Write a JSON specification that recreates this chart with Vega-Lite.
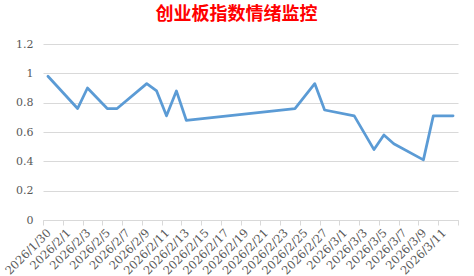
{
  "$schema": "https://vega.github.io/schema/vega-lite/v6.json",
  "autosize": "none",
  "width": 415,
  "height": 176,
  "padding": {"left": 43, "top": 44, "right": 16, "bottom": 56},
  "background": "white",
  "title": {
    "text": "创业板指数情绪监控",
    "color": "#FF0000",
    "font": "Noto Sans CJK SC",
    "fontSize": 18,
    "fontWeight": "bold",
    "anchor": "middle",
    "dx": -14,
    "offset": 14
  },
  "data": {
    "values": [
      {"date": "2026-01-30", "value": 0.98},
      {"date": "2026-02-02", "value": 0.76},
      {"date": "2026-02-03", "value": 0.90},
      {"date": "2026-02-05", "value": 0.76},
      {"date": "2026-02-06", "value": 0.76},
      {"date": "2026-02-09", "value": 0.93},
      {"date": "2026-02-10", "value": 0.88},
      {"date": "2026-02-11", "value": 0.71},
      {"date": "2026-02-12", "value": 0.88},
      {"date": "2026-02-13", "value": 0.68},
      {"date": "2026-02-24", "value": 0.76},
      {"date": "2026-02-26", "value": 0.93},
      {"date": "2026-02-27", "value": 0.75},
      {"date": "2026-03-02", "value": 0.71},
      {"date": "2026-03-04", "value": 0.48},
      {"date": "2026-03-05", "value": 0.58},
      {"date": "2026-03-06", "value": 0.52},
      {"date": "2026-03-09", "value": 0.41},
      {"date": "2026-03-10", "value": 0.71},
      {"date": "2026-03-11", "value": 0.71},
      {"date": "2026-03-12", "value": 0.71}
    ]
  },
  "mark": {"type": "line", "color": "#5B9BD5", "strokeWidth": 2.75, "strokeCap": "round", "strokeJoin": "round"},
  "encoding": {
    "x": {
      "field": "date",
      "type": "temporal",
      "timeUnit": "utcyearmonthdate",
      "bandPosition": 0.5,
      "title": null,
      "scale": {
        "domain": [
          {"year": 2026, "month": 1, "date": 30, "utc": true},
          {"year": 2026, "month": 3, "date": 13, "utc": true}
        ]
      },
      "axis": {
        "values": [
          {"year": 2026, "month": 1, "date": 30, "utc": true},
          {"year": 2026, "month": 2, "date": 1, "utc": true},
          {"year": 2026, "month": 2, "date": 3, "utc": true},
          {"year": 2026, "month": 2, "date": 5, "utc": true},
          {"year": 2026, "month": 2, "date": 7, "utc": true},
          {"year": 2026, "month": 2, "date": 9, "utc": true},
          {"year": 2026, "month": 2, "date": 11, "utc": true},
          {"year": 2026, "month": 2, "date": 13, "utc": true},
          {"year": 2026, "month": 2, "date": 15, "utc": true},
          {"year": 2026, "month": 2, "date": 17, "utc": true},
          {"year": 2026, "month": 2, "date": 19, "utc": true},
          {"year": 2026, "month": 2, "date": 21, "utc": true},
          {"year": 2026, "month": 2, "date": 23, "utc": true},
          {"year": 2026, "month": 2, "date": 25, "utc": true},
          {"year": 2026, "month": 2, "date": 27, "utc": true},
          {"year": 2026, "month": 3, "date": 1, "utc": true},
          {"year": 2026, "month": 3, "date": 3, "utc": true},
          {"year": 2026, "month": 3, "date": 5, "utc": true},
          {"year": 2026, "month": 3, "date": 7, "utc": true},
          {"year": 2026, "month": 3, "date": 9, "utc": true},
          {"year": 2026, "month": 3, "date": 11, "utc": true},
          {"year": 2026, "month": 3, "date": 13, "utc": true}
        ],
        "labelExpr": "utcFormat(datum.value, '%Y/%-m/%-d') == '2026/3/13' ? '' : utcFormat(datum.value, '%Y/%-m/%-d')",
        "labelAngle": -45,
        "labelAlign": "right",
        "labelBaseline": "middle",
        "labelOffset": 6,
        "labelPadding": 6,
        "labelFont": "DejaVu Serif",
        "labelFontSize": 11.5,
        "labelColor": "#595959",
        "labelOverlap": false,
        "labelBound": false,
        "labelFlush": false,
        "grid": false,
        "domainColor": "#D9D9D9",
        "tickColor": "#D9D9D9",
        "tickSize": 5
      }
    },
    "y": {
      "field": "value",
      "type": "quantitative",
      "title": null,
      "scale": {"domain": [0, 1.2], "nice": false, "zero": true},
      "axis": {
        "values": [0, 0.2, 0.4, 0.6, 0.8, 1.0, 1.2],
        "format": ".1~f",
        "domain": false,
        "ticks": false,
        "labelPadding": 10,
        "labelFont": "DejaVu Serif",
        "labelFontSize": 11,
        "labelColor": "#595959",
        "gridColor": "#D9D9D9",
        "gridWidth": 1
      }
    }
  },
  "config": {"view": {"stroke": null}}
}
